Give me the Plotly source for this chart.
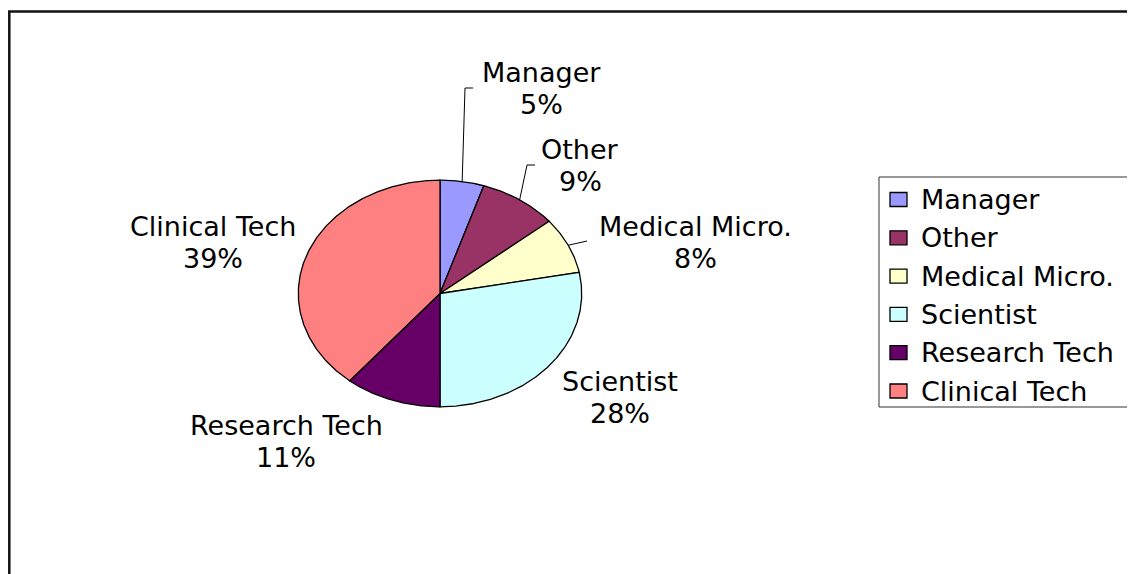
import numpy as np
import plotly.graph_objects as go

# ---- data ----
categories = ["Manager", "Other", "Medical Micro.", "Scientist", "Research Tech", "Clinical Tech"]
values = [5, 9, 8, 28, 11, 39]

# ---- styles / layout ----
colors = ["#9999FF", "#993366", "#FFFFCC", "#CCFFFF", "#660066", "#FF8080"]
W, H = 1135, 574
OFF = 8  # page body margin compensation
CX, CY, RX, RY = 440.0, 293.5, 141.7, 113.3
label_pos = [(541, 88), (580, 165), (695, 242), (620, 397), (286, 441), (213, 242)]
LINE_GAP = 16
leader_end = [[(465, 88), (473, 88)], [(527, 165), (535, 165)], [(587, 241)], None, None, None]
FONT = dict(family="DejaVu Sans, Arial", size=27, color="black")

fig = go.Figure()

total = float(sum(values))
cum = np.concatenate([[0.0], np.cumsum(values)]) / total
for i, (name, v) in enumerate(zip(categories, values)):
    a0, a1 = cum[i] * 2 * np.pi, cum[i + 1] * 2 * np.pi
    t = np.linspace(a0, a1, max(int((a1 - a0) / 0.01), 4))
    xs = np.concatenate([[CX], CX + RX * np.sin(t), [CX]])
    ys = np.concatenate([[CY], CY - RY * np.cos(t), [CY]])
    fig.add_trace(go.Scatter(x=xs, y=ys, mode="lines", fill="toself",
                             fillcolor=colors[i], line=dict(color="black", width=1.3),
                             name=name, hoverinfo="name", showlegend=False))
    # label (two lines)
    pct = round(v / total * 100)
    lx, ly = label_pos[i]
    fig.add_annotation(x=lx, y=ly - LINE_GAP, text=name, showarrow=False,
                       font=FONT, xanchor="center", yanchor="middle")
    fig.add_annotation(x=lx, y=ly + LINE_GAP, text=f"{pct}%", showarrow=False,
                       font=FONT, xanchor="center", yanchor="middle")
    # leader line
    if leader_end[i] is not None:
        am = (a0 + a1) / 2
        px = [CX + RX * np.sin(am)] + [p[0] for p in leader_end[i]]
        py = [CY - RY * np.cos(am)] + [p[1] for p in leader_end[i]]
        fig.add_trace(go.Scatter(x=px, y=py, mode="lines",
                                 line=dict(color="black", width=1),
                                 hoverinfo="skip", showlegend=False))

# ---- manual legend ----
LX0, LY0, LX1, LY1 = 879, 177, 1150, 407
row0, row_step = 199.5, 38.3
fig.add_shape(type="rect", x0=LX0, y0=LY0, x1=LX1, y1=LY1,
              line=dict(color="#333333", width=1), fillcolor="white", layer="below")
for i, name in enumerate(categories):
    yc = row0 + i * row_step
    fig.add_shape(type="rect", x0=890, x1=907, y0=yc - 7, y1=yc + 7,
                  line=dict(color="black", width=1.3), fillcolor=colors[i])
    fig.add_annotation(x=919, y=yc, text=name, showarrow=False, font=FONT,
                       xanchor="left", yanchor="middle")

# ---- outer frame ----
fig.add_shape(type="rect", x0=9.3, y0=11.5, x1=1160, y1=600,
              line=dict(color="#111111", width=2.5), layer="below")

fig.update_xaxes(range=[OFF, W + OFF], visible=False, fixedrange=True)
fig.update_yaxes(range=[H + OFF, OFF], visible=False, fixedrange=True)
fig.update_layout(width=W, height=H, margin=dict(l=0, r=0, t=0, b=0),
                  plot_bgcolor="white", paper_bgcolor="white", showlegend=False)

fig.write_html("out.html")
